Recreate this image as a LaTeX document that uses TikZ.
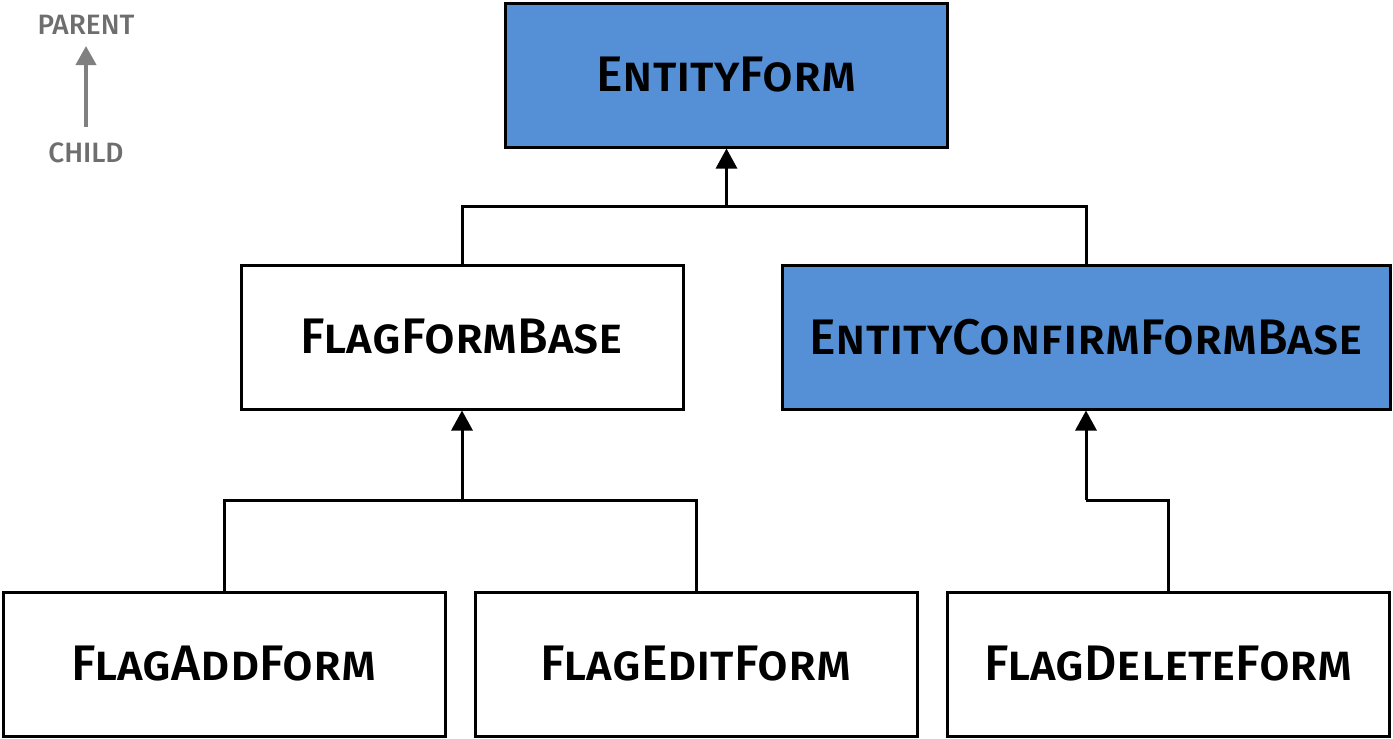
\documentclass[tikz,border=0pt]{standalone}
\usepackage{fontspec}
\setmainfont{Fira Sans}[BoldFont={Fira Sans Medium}]
\usetikzlibrary{arrows.meta}

\definecolor{formblue}{RGB}{85,143,214}
\definecolor{legendgray}{RGB}{110,110,110}

\tikzset{every picture/.style={line width=1.5pt}}
\tikzset{
  classbox/.style={draw=black, line width=1.5pt, fill=white, minimum width=221pt, minimum height=72pt, inner sep=0pt, font=\fontsize{25}{29}\selectfont\bfseries\scshape},
  basebox/.style={classbox, fill=formblue},
  link/.style={draw=black, line width=1.5pt},
  inherit/.style={link, -{Triangle[width=10.5pt,length=10pt]}},
  legendtext/.style={text=legendgray, font=\fontsize{14}{16}\selectfont\bfseries, inner sep=0pt},
}

\begin{document}
\begin{tikzpicture}[x=0.5pt,y=-0.5pt]
\useasboundingbox (0,0) rectangle (1393,739);

% legend
\node[legendtext] (lparent) at (86,25) {PARENT};
\node[legendtext] (lchild) at (86,153) {CHILD};
\draw[draw=gray, line width=2pt, -{Triangle[width=10pt,length=9.5pt]}] (86,127) -- (86,46);

% classes
\node[basebox] (eform) at (726.5,75) {EntityForm};
\node[classbox] (fbase) at (462,337) {FlagFormBase};
\node[basebox, minimum width=304pt] (ecbase) at (1086,337) {EntityConfirmFormBase};
\node[classbox] (fadd) at (224,664) {FlagAddForm};
\node[classbox] (fedit) at (696,664) {FlagEditForm};
\node[classbox] (fdelete) at (1168.5,664) {FlagDeleteForm};

% junctions
\coordinate (j1) at (726.5,206);
\coordinate (j2) at (462,500);
\coordinate (j3) at (1086,500);

% connectors
\draw[link] (fbase.north) |- (j1) -| (ecbase.north);
\draw[inherit] (j1) -- (eform.south);
\draw[link] (fadd.north) |- (j2) -| (fedit.north);
\draw[inherit] (j2) -- (fbase.south);
\draw[link] (fdelete.north) |- (j3);
\draw[inherit] (j3) -- (ecbase.south);
\end{tikzpicture}
\end{document}
